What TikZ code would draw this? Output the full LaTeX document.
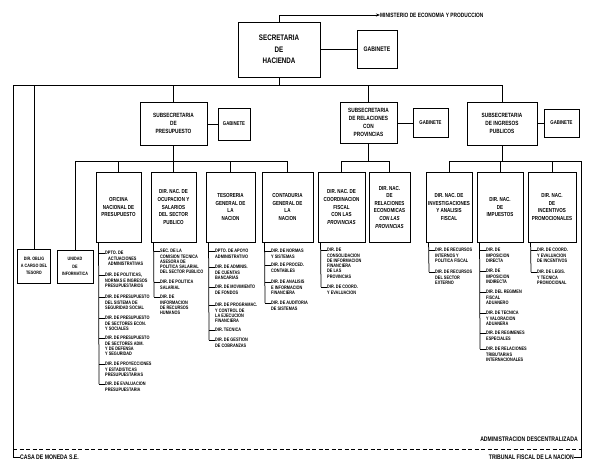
\documentclass[tikz,border=0pt]{standalone}
\usepackage{fontspec}
\setmainfont{Liberation Sans}[FakeStretch=0.78]
\usetikzlibrary{arrows.meta}
\tikzset{
  conn/.style={line width=0.75pt},
  box/.style={draw, line width=0.9pt, align=center, inner sep=0pt},
  secbox/.style={box, font=\fontsize{8}{11.5}\selectfont\bfseries},
  gabbig/.style={box, font=\fontsize{6.6}{8}\selectfont\bfseries},
  subbox/.style={box, font=\fontsize{6.1}{7.8}\selectfont\bfseries},
  gabbox/.style={box, font=\fontsize{5.5}{7}\selectfont\bfseries},
  colbox/.style={box, minimum width=#1, minimum height=70pt, font=\fontsize{5.8}{7.6}\selectfont\bfseries},
  leftbox/.style={box, font=\fontsize{4.8}{7.2}\selectfont\bfseries},
  itm/.style={align=left, inner sep=0pt, font=\fontsize{4.95}{5.3}\selectfont\bfseries},
  note/.style={inner sep=0pt, font=\fontsize{6.6}{7}\selectfont\bfseries}
}
\newcommand\orgitem[4]{%
  \node[itm, anchor=north west] (#1) at (#2+6,#3-1.9) {#4};
  \draw[conn] (#2,#3) -- ([yshift=-1.9pt]#1.north west);
}
\begin{document}
\begin{tikzpicture}[x=1pt,y=-1pt]
\fill[white] (0,0) rectangle (589,466);
\useasboundingbox (0,0) rectangle (589,466);

% top level
\node[secbox, minimum width=82pt, minimum height=55pt] (sec) at (279,49.5) {SECRETARIA\\DE\\HACIENDA};
\node[gabbig, minimum width=40pt, minimum height=38pt] (gab0) at (377,49) {GABINETE};
\node[note, anchor=west, font=\fontsize{6.2}{7}\selectfont\bfseries] (min) at (380,15) {MINISTERIO DE ECONOMIA Y PRODUCCION};
\draw[conn, -{Stealth[length=4pt,width=3pt]}] (sec.north) -- (sec.north |- min.west) -- (min.west);
\draw[conn] (sec.east |- gab0.west) -- (gab0.west);

% subsecretarias
\node[subbox, minimum width=67pt, minimum height=43pt] (subP) at (173.5,123.5) {SUBSECRETARIA\\DE\\PRESUPUESTO};
\node[gabbox, minimum width=32pt, minimum height=32pt] (gabP) at (234,124) {GABINETE};
\node[subbox, minimum width=57pt, minimum height=41pt] (subR) at (368.5,122.5) {SUBSECRETARIA\\DE RELACIONES\\CON\\PROVINCIAS};
\node[gabbox, minimum width=35pt, minimum height=29pt] (gabR) at (430.5,123) {GABINETE};
\node[subbox, minimum width=70pt, minimum height=43pt] (subI) at (502,123.5) {SUBSECRETARIA\\DE INGRESOS\\PUBLICOS};
\node[gabbox, minimum width=35pt, minimum height=28pt] (gabI) at (561.5,123) {GABINETE};
\draw[conn] (subP.east |- gabP.west) -- (gabP.west);
\draw[conn] (subR.east |- gabR.west) -- (gabR.west);
\draw[conn] (subI.east |- gabI.west) -- (gabI.west);

% left boxes
\node[leftbox, minimum width=33pt, minimum height=34pt] (obl) at (34,266) {DIR. OBLIG\\A CARGO DEL\\TESORO};
\node[leftbox, minimum width=36pt, minimum height=33pt] (uni) at (75,266.5) {UNIDAD\\DE\\INFORMATICA};

% column boxes
\node[colbox=45pt] (onp) at (118.5,207) {OFICINA\\NACIONAL DE\\PRESUPUESTO};
\node[colbox=45pt] (ocu) at (173.5,207) {DIR. NAC. DE\\OCUPACION Y\\SALARIOS\\DEL SECTOR\\PUBLICO};
\node[colbox=49pt] (tes) at (230.5,207) {TESORERIA\\GENERAL DE\\LA\\NACION};
\node[colbox=51pt] (con) at (287.5,207) {CONTADURIA\\GENERAL DE\\LA\\NACION};
\node[colbox=47pt] (coo) at (341.5,207) {DIR. NAC. DE\\COORDINACION\\FISCAL\\CON LAS\\\textit{PROVINCIAS}};
\node[colbox=41pt] (rec) at (389.5,207) {DIR. NAC.\\DE\\RELACIONES\\ECONOMICAS\\\textit{CON LAS}\\\textit{PROVINCIAS}};
\node[colbox=46pt] (inv) at (449,207) {DIR. NAC. DE\\INVESTIGACIONES\\Y ANALISIS\\FISCAL};
\node[colbox=46pt] (imp) at (500,207) {DIR. NAC.\\DE\\IMPUESTOS};
\node[colbox=48pt] (inc) at (552,207) {DIR. NAC.\\DE\\INCENTIVOS\\PROMOCIONALES};

% bottom notes
\node[note, anchor=west] (casa) at (20,457) {CASA DE MONEDA S.E.};
\node[note, anchor=east] (trib) at (574,457) {TRIBUNAL FISCAL DE LA NACION};
\node[note, anchor=east] (adm) at (578,439) {ADMINISTRACION DESCENTRALIZADA};

% main bus
\coordinate (TB) at (0,85);
\coordinate (PB) at (0,161);
\draw[conn] (casa.west) -- (13,457) -- (13,85) -- (subI.north |- TB) -- (subI.north);
\draw[conn] (sec.south) -- (sec.south |- TB);
\draw[conn] (obl.north) -- (obl.north |- TB);
\draw[conn] (subP.north) -- (subP.north |- TB);
\draw[conn] (subR.north) -- (subR.north |- TB);

% presupuesto bus
\draw[conn] (subP.south) -- (subP.south |- PB);
\draw[conn] (uni.north) -- (uni.north |- PB) -- (con.north |- PB) -- (con.north);
\draw[conn] (onp.north) -- (onp.north |- PB);
\draw[conn] (ocu.north) -- (ocu.north |- PB);
\draw[conn] (tes.north) -- (tes.north |- PB);

% relaciones bus
\draw[conn] (subR.south) -- (subR.south |- PB);
\draw[conn] (coo.north) -- (coo.north |- PB) -- (rec.north |- PB) -- (rec.north);

% ingresos bus
\draw[conn] (subI.south) -- (subI.south |- PB);
\draw[conn] (inv.north) -- (inv.north |- PB) -- (581,161) -- (581,457) -- (trib.east);
\draw[conn] (imp.north) -- (imp.north |- PB);
\draw[conn] (inc.north) -- (inc.north |- PB);

% dashed line
\draw[conn, dash pattern=on 4pt off 2.5pt] (13,449) -- (581,449);

% ONP items
\draw[conn] ([xshift=3pt]onp.south west) -- (99,384);
\orgitem{o1}{99}{253}{DPTO. DE\\\hspace{3pt}ACTUACIONES\\\hspace{3pt}ADMINISTRATIVAS}
\orgitem{o2}{99}{275}{DIR. DE POLITICAS,\\NORMAS E INGRESOS\\PRESUPUESTARIOS}
\orgitem{o3}{99}{297}{DIR. DE PRESUPUESTO\\DEL SISTEMA DE\\SEGURIDAD SOCIAL}
\orgitem{o4}{99}{318}{DIR. DE PRESUPUESTO\\DE SECTORES ECON.\\Y SOCIALES}
\orgitem{o5}{99}{338}{DIR. DE PRESUPUESTO\\DE SECTORES ADM.\\Y DE DEFENSA\\Y SEGURIDAD}
\orgitem{o6}{99}{364}{DIR. DE PROYECCIONES\\Y ESTADISTICAS\\PRESUPUESTARIAS}
\orgitem{o7}{99}{384}{DIR. DE EVALUACION\\PRESUPUESTARIA}

% Ocupacion items
\draw[conn] ([xshift=3pt]ocu.south west) -- (154,297);
\orgitem{c1}{154}{251}{SEC. DE LA\\COMISION TECNICA\\ASESORA DE\\POLITICA SALARIAL\\DEL SECTOR PUBLICO}
\orgitem{c2}{154}{282}{DIR. DE POLITICA\\SALARIAL}
\orgitem{c3}{154}{297}{DIR. DE\\INFORMACION\\DE RECURSOS\\HUMANOS}

% Tesoreria items
\draw[conn] ([xshift=3pt]tes.south west) -- (209,340);
\orgitem{t1}{209}{251}{DPTO. DE APOYO\\ADMINISTRATIVO}
\orgitem{t2}{209}{267}{DIR. DE ADMINIS.\\DE CUENTAS\\BANCARIAS}
\orgitem{t3}{209}{287}{DIR. DE MOVIMIENTO\\DE FONDOS}
\orgitem{t4}{209}{305}{DIR. DE PROGRAMAC.\\Y CONTROL DE\\LA EJECUCION\\FINANCIERA}
\orgitem{t5}{209}{330}{DIR. TECNICA}
\orgitem{t6}{209}{340}{DIR. DE GESTION\\DE COBRANZAS}

% Contaduria items
\draw[conn] ([xshift=3pt]con.south west) -- (265,303);
\orgitem{k1}{265}{251}{DIR. DE NORMAS\\Y SISTEMAS}
\orgitem{k2}{265}{265}{DIR. DE PROCED.\\CONTABLES}
\orgitem{k3}{265}{282}{DIR. DE ANALISIS\\E INFORMACION\\FINANCIERA}
\orgitem{k4}{265}{303}{DIR. DE AUDITORIA\\DE SISTEMAS}

% Coordinacion items
\draw[conn] ([xshift=3pt]coo.south west) -- (321,287);
\orgitem{r1}{321}{250}{DIR. DE\\CONSOLIDACION\\DE INFORMACION\\FINANCIERA\\DE LAS\\PROVINCIAS}
\orgitem{r2}{321}{287}{DIR. DE COORD.\\Y EVALUACION}

% Investigaciones items
\draw[conn] ([xshift=3pt]inv.south west) -- (429,272);
\orgitem{v1}{429}{250}{DIR. DE RECURSOS\\INTERNOS Y\\POLITICA FISCAL}
\orgitem{v2}{429}{272}{DIR. DE RECURSOS\\DEL SECTOR\\EXTERNO}

% Impuestos items
\draw[conn] ([xshift=3pt]imp.south west) -- (480,349);
\orgitem{m1}{480}{250}{DIR. DE\\IMPOSICION\\DIRECTA}
\orgitem{m2}{480}{271}{DIR. DE\\IMPOSICION\\INDIRECTA}
\orgitem{m3}{480}{292}{DIR. DEL REGIMEN\\FISCAL\\ADUANERO}
\orgitem{m4}{480}{313}{DIR. DE TECNICA\\Y VALORACION\\ADUANERA}
\orgitem{m5}{480}{333}{DIR. DE REGIMENES\\ESPECIALES}
\orgitem{m6}{480}{349}{DIR. DE RELACIONES\\TRIBUTARIAS\\INTERNACIONALES}

% Incentivos items
\draw[conn] ([xshift=3pt]inc.south west) -- (531,272);
\orgitem{n1}{531}{250}{DIR. DE COORD.\\Y EVALUACION\\DE INCENTIVOS}
\orgitem{n2}{531}{272}{DIR. DE LEGIS.\\Y TECNICA\\PROMOCIONAL}
\end{tikzpicture}
\end{document}
